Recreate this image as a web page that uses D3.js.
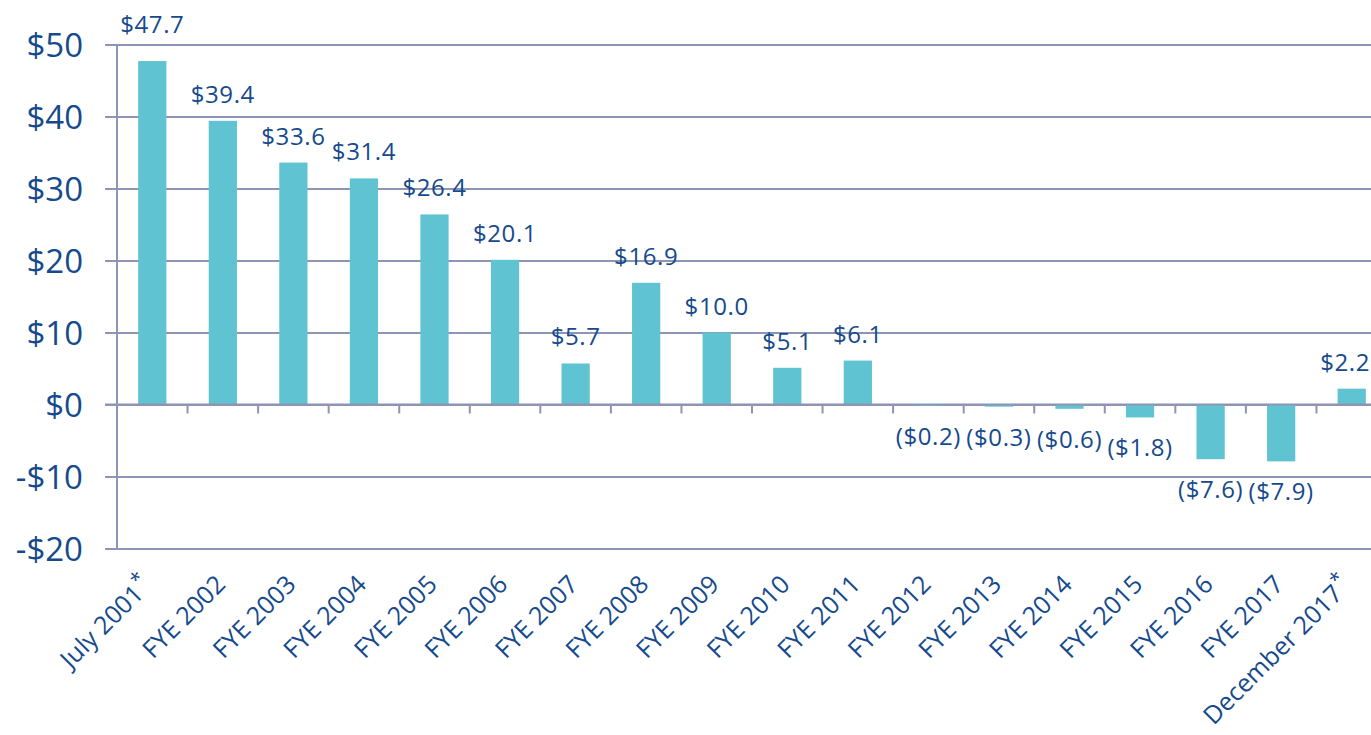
<!DOCTYPE html>
<html>
<head>
<meta charset="utf-8">
<script src="https://cdn.jsdelivr.net/npm/d3@7"></script>
<style>
  body { margin: 0; background: #fff; }
  text { fill: #164a8c; }
</style>
</head>
<body>
<div id="chart"></div>
<script>
// categories and values ($ millions)
var categories = ["July 2001*", "FYE 2002", "FYE 2003", "FYE 2004", "FYE 2005", "FYE 2006",
  "FYE 2007", "FYE 2008", "FYE 2009", "FYE 2010", "FYE 2011", "FYE 2012", "FYE 2013",
  "FYE 2014", "FYE 2015", "FYE 2016", "FYE 2017", "December 2017*"];
var values = [47.7, 39.4, 33.6, 31.4, 26.4, 20.1, 5.7, 16.9, 10.0, 5.1, 6.1,
  -0.2, -0.3, -0.6, -1.8, -7.6, -7.9, 2.2];
var yTicks = [-20, -10, 0, 10, 20, 30, 40, 50];

var svgWidth = 1371;
var svgHeight = 735;

var gridColor = "#8e94b3";
var barColor = "#5fc3d1";

var svg = d3.select("#chart")
  .append("svg")
  .attr("width", svgWidth)
  .attr("height", svgHeight);

var data = categories.map(function(c, i) { return { cat: c, value: values[i] }; });

// x extends a little past the right edge, like the original slide
var x = d3.scaleBand()
  .domain(categories)
  .range([117, 1387])
  .paddingInner(0.6)
  .paddingOuter(0.3);

var y = d3.scaleLinear()
  .domain([-20, 50])
  .range([548.5, 44.5]);

// gridlines + y labels
var yAxis = d3.axisLeft(y)
  .tickValues(yTicks)
  .tickSize(-(svgWidth - 105))
  .tickFormat(function(d) { return (d < 0 ? "-$" : "$") + Math.abs(d); });

var yG = svg.append("g")
  .attr("transform", "translate(105,0)")
  .call(yAxis);
yG.select(".domain").remove();
yG.selectAll(".tick line")
  .attr("stroke", gridColor)
  .attr("stroke-width", 2);
yG.selectAll(".tick text")
  .attr("x", -22)
  .attr("dy", "0.36em")
  .attr("font-family", "'Open Sans', sans-serif")
  .attr("font-size", 33)
  .style("fill", "#164a8c");

// vertical axis line
svg.append("line")
  .attr("x1", 117).attr("x2", 117)
  .attr("y1", y(50)).attr("y2", y(-20))
  .attr("stroke", gridColor)
  .attr("stroke-width", 2);

// bars
svg.append("g").selectAll("rect")
  .data(data)
  .enter()
  .append("rect")
  .attr("x", d => x(d.cat))
  .attr("width", x.bandwidth())
  .attr("y", d => y(Math.max(0, d.value)))
  .attr("height", d => Math.abs(y(d.value) - y(0)))
  .attr("fill", barColor);

// zero line drawn over the bars with category separator ticks
svg.append("line")
  .attr("x1", 105).attr("x2", svgWidth)
  .attr("y1", y(0)).attr("y2", y(0))
  .attr("stroke", gridColor)
  .attr("stroke-width", 2);

svg.append("g").selectAll("line")
  .data(categories.slice(1))
  .enter()
  .append("line")
  .attr("x1", d => x(d) - x.step() * x.paddingInner() / 2)
  .attr("x2", d => x(d) - x.step() * x.paddingInner() / 2)
  .attr("y1", y(0))
  .attr("y2", y(0) + 9)
  .attr("stroke", gridColor)
  .attr("stroke-width", 2);

// value labels
function fmt(v) {
  return v < 0 ? "($" + Math.abs(v).toFixed(1) + ")" : "$" + v.toFixed(1);
}

var valueLabels = svg.append("g").selectAll("text")
  .data(data)
  .enter()
  .append("text")
  .attr("x", d => x(d.cat) + x.bandwidth() / 2)
  .attr("y", function(d, i) {
    if (d.value < 0) return y(d.value) + 39;
    return y(d.value) - (i === 0 ? 28 : 18);
  })
  .attr("text-anchor", "middle")
  .attr("font-family", "'Open Sans', sans-serif")
  .attr("font-size", 24)
  .attr("letter-spacing", 0.6)
  .text(d => fmt(d.value));

// keep the last label inside the window
valueLabels.each(function() {
  var b = this.getBBox();
  if (b.x + b.width > svgWidth - 1) {
    d3.select(this).attr("x", +d3.select(this).attr("x") - (b.x + b.width - svgWidth + 1));
  }
});

// rotated category labels
var catLabels = svg.append("g").selectAll("text")
  .data(categories)
  .enter()
  .append("text")
  .attr("text-anchor", "end")
  .attr("font-family", "'Open Sans', sans-serif")
  .attr("font-size", 25)
  .attr("transform", function(d) {
    var cx = x(d) + x.bandwidth() / 2 + 4;
    var cy = 586;
    // starred labels sit a little further back, the star pokes past the end
    if (d.slice(-1) === "*") { cx -= 3; cy += 1; }
    return "translate(" + cx + "," + cy + ") rotate(-45)";
  });

catLabels.each(function(d) {
  var t = d3.select(this);
  if (d.slice(-1) === "*") {
    t.append("tspan").text(d.slice(0, -1));
    t.append("tspan")
      .attr("font-size", 20)
      .attr("dx", 1)
      .attr("dy", -10)
      .text("*");
  } else {
    t.text(d);
  }
});
</script>
</body>
</html>
